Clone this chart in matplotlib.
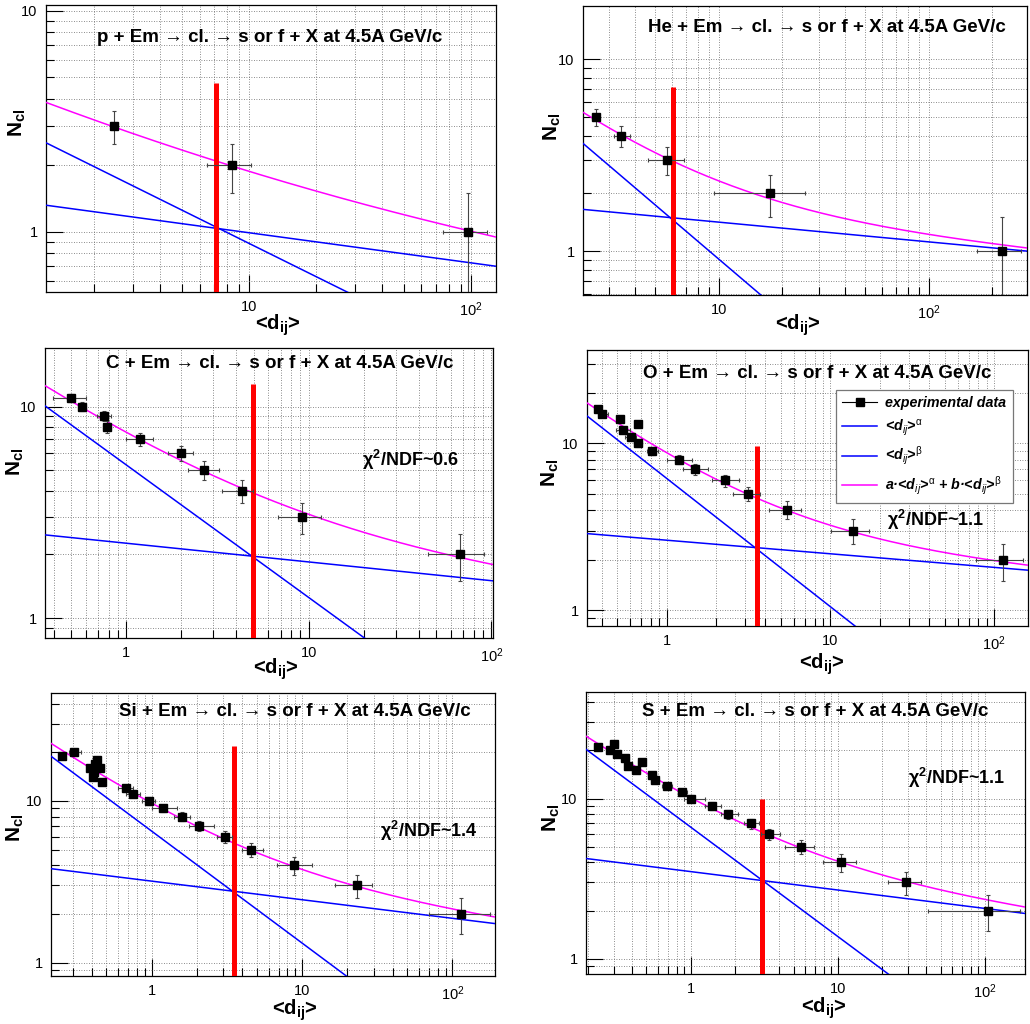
import numpy as np
import matplotlib
matplotlib.use('Agg')
import matplotlib.pyplot as plt
from matplotlib.ticker import FixedLocator, FuncFormatter, NullFormatter
from matplotlib.lines import Line2D

plt.rcParams['font.family'] = ['Liberation Sans', 'DejaVu Sans']
plt.rcParams['mathtext.fontset'] = 'custom'
plt.rcParams['mathtext.rm'] = 'Liberation Sans'
plt.rcParams['mathtext.it'] = 'Liberation Sans:italic'
plt.rcParams['mathtext.bf'] = 'Liberation Sans:bold'

W, H = 1030, 1024

# ---- data ----
p_x = [2.47, 8.4, 97]
p_y = [3, 2, 1]
p_xlo = [2.40, 6.5, 75]
p_xhi = [2.55, 10.2, 118]
p_yerr = [0.5, 0.5, 0.5]

he_x = [2.6, 3.41, 5.7, 17.5, 224]
he_y = [5, 4, 3, 2, 1]
he_xlo = [2.5, 3.16, 4.6, 9.5, 170]
he_xhi = [2.7, 3.8, 6.85, 25.8, 276]
he_yerr = [0.5, 0.5, 0.5, 0.5, 0.5]

c_x = [0.50, 0.572, 0.76, 0.787, 1.19, 2.0, 2.68, 4.28, 9.12, 67.6]
c_y = [11, 10, 9, 8, 7, 6, 5, 4, 3, 2]
c_xlo = [0.398, 0.55, 0.69, 0.75, 1.0, 1.69, 2.17, 3.35, 6.8, 45]
c_xhi = [0.604, 0.60, 0.83, 0.83, 1.41, 2.31, 3.21, 4.97, 11.6, 90.7]
c_yerr = [0.5, 0.5, 0.5, 0.5, 0.5, 0.5, 0.5, 0.5, 0.5, 0.5]

o_x = [0.381, 0.404, 0.519, 0.67, 0.543, 0.603, 0.67, 0.817, 1.19, 1.49, 2.26, 3.15, 5.4, 13.7, 114]
o_y = [16, 15, 14, 13, 12, 11, 10, 9, 8, 7, 6, 5, 4, 3, 2]
o_xlo = [0.37, 0.38, 0.50, 0.65, 0.49, 0.56, 0.63, 0.76, 1.0, 1.26, 1.89, 2.55, 4.2, 10.1, 77]
o_xhi = [0.39, 0.44, 0.54, 0.69, 0.60, 0.65, 0.71, 0.88, 1.42, 1.8, 2.78, 3.7, 6.6, 17.3, 150]
o_yerr = [0.5, 0.5, 0.5, 0.5, 0.5, 0.5, 0.5, 0.5, 0.5, 0.5, 0.5, 0.5, 0.5, 0.5, 0.5]

si_x = [0.252, 0.304, 0.39, 0.43, 0.42, 0.45, 0.415, 0.41, 0.465, 0.675, 0.747, 0.955,
        1.19, 1.59, 2.07, 3.07, 4.55, 8.83, 23.1, 113.7]
si_y = [19, 20, 16, 18, 17, 16, 15, 14, 13, 12, 11, 10, 9, 8, 7, 6, 5, 4, 3, 2]
si_xlo = [0.245, 0.28, 0.37, 0.41, 0.40, 0.43, 0.40, 0.39, 0.44, 0.60, 0.68, 0.86,
          1.0, 1.4, 1.77, 2.7, 4.0, 6.77, 16.6, 69.5]
si_xhi = [0.26, 0.34, 0.41, 0.45, 0.44, 0.48, 0.43, 0.43, 0.49, 0.754, 0.83, 1.06,
          1.47, 1.8, 2.6, 3.4, 5.5, 11.6, 29, 178]
si_yerr = [0.5, 0.5, 0.5, 0.5, 0.5, 0.5, 0.5, 0.5, 0.5, 0.5,
           0.5, 0.5, 0.5, 0.5, 0.5, 0.5, 0.5, 0.5, 0.5, 0.5]

s_x = [0.233, 0.283, 0.303, 0.314, 0.358, 0.377, 0.423, 0.465, 0.543, 0.572, 0.687,
       0.877, 1.0, 1.4, 1.8, 2.57, 3.4, 5.58, 10.5, 29.2, 105]
s_y = [21, 20, 22, 19, 18, 16, 15, 17, 14, 13, 12, 11, 10, 9, 8, 7, 6, 5, 4, 3, 2]
s_xlo = [0.22, 0.27, 0.29, 0.30, 0.34, 0.36, 0.40, 0.44, 0.51, 0.54, 0.64,
         0.82, 0.90, 1.25, 1.6, 2.3, 3.0, 4.37, 7.9, 22, 41.2]
s_xhi = [0.245, 0.30, 0.32, 0.33, 0.38, 0.40, 0.45, 0.49, 0.58, 0.61, 0.74,
         0.94, 1.24, 1.6, 2.1, 2.9, 4.04, 6.9, 13.2, 36.6, 172]
s_yerr = [0.5, 0.5, 0.5, 0.5, 0.5, 0.5, 0.5, 0.5, 0.5, 0.5, 0.5,
          0.5, 0.5, 0.5, 0.5, 0.5, 0.5, 0.5, 0.5, 0.5, 0.5]

# fit a*<d>^alpha + b*<d>^beta for each beam
fit_a = [2.79, 7.81, 5.30, 6.17, 6.50, 6.63]
fit_alpha = [-0.497, -0.934, -0.627, -0.769, -0.692, -0.683]
fit_b = [1.356, 1.795, 2.26, 2.63, 3.19, 3.50]
fit_beta = [-0.136, -0.103, -0.0885, -0.0814, -0.115, -0.115]

# red vertical line (crossing point)
cut_x = [7.1, 6.04, 4.92, 3.58, 3.54, 3.07]
cut_top = [4.7, 7.14, 12.8, 9.63, 21.9, 10.0]

beams = ['p', 'He', 'C', 'O', 'Si', 'S']
chi2 = [None, None, '0.6', '1.1', '1.4', '1.1']

# ---- layout (pixels) ----
boxes = [(46, 5, 496, 292), (583, 6, 1027, 295),
         (45, 348, 493, 638), (587, 350, 1028, 626),
         (51, 693, 495, 976), (586, 692, 1025, 974)]
xlims = [(1.22, 130), (2.26, 294), (0.359, 102), (0.326, 161), (0.214, 192), (0.194, 187)]
ylims = [(0.535, 10.6), (0.59, 19), (0.806, 18.9), (0.805, 36.3), (0.826, 46.5), (0.803, 46.3)]
title_pos = [(270, 38), (827, 27), (280, 363), (817, 373), (295, 712), (815, 712)]
ylab_pos = [(17, 123), (552, 127), (15, 462), (550, 473), (15, 828), (551, 818)]
xlab_pos = [(278, 325), (798, 325), (276, 669), (822, 664), (295, 1010), (824, 1008)]
chi_pos = [None, None, (362, 460), (887, 520), (380, 831), (908, 778)]

datasets = [(p_x, p_y, p_xlo, p_xhi, p_yerr), (he_x, he_y, he_xlo, he_xhi, he_yerr),
            (c_x, c_y, c_xlo, c_xhi, c_yerr), (o_x, o_y, o_xlo, o_xhi, o_yerr),
            (si_x, si_y, si_xlo, si_xhi, si_yerr), (s_x, s_y, s_xlo, s_xhi, s_yerr)]


def fx(px):
    return px / W


def fy(py):
    return 1 - py / H


def xfmt(v, pos):
    if abs(v - 1) < 1e-9:
        return '1'
    if abs(v - 10) < 1e-9:
        return '10'
    if abs(v - 100) < 1e-9:
        return r'$\mathregular{10^{2}}$'
    return ''


fig = plt.figure(figsize=(W / 100, H / 100), dpi=100)

for i in range(6):
    l, t, r, b = boxes[i]
    ax = fig.add_axes([fx(l), fy(b), (r - l) / W, (b - t) / H])
    ax.set_xscale('log')
    ax.set_yscale('log')
    ax.set_xlim(*xlims[i])
    ax.set_ylim(*ylims[i])

    minors = [m * 10.0 ** e for e in range(-1, 3) for m in range(2, 10)]
    ax.xaxis.set_major_locator(FixedLocator([0.1, 1, 10, 100]))
    ax.xaxis.set_minor_locator(FixedLocator(minors))
    ax.yaxis.set_major_locator(FixedLocator([0.1, 1, 10, 100]))
    ax.yaxis.set_minor_locator(FixedLocator(minors))
    ax.xaxis.set_major_formatter(FuncFormatter(xfmt))
    ax.yaxis.set_major_formatter(FuncFormatter(xfmt))
    ax.xaxis.set_minor_formatter(NullFormatter())
    ax.yaxis.set_minor_formatter(NullFormatter())
    ax.tick_params(which='major', direction='in', length=12, width=0.8, labelsize=10.5, pad=6)
    ax.tick_params(which='minor', direction='in', length=6, width=0.8)
    ax.grid(True, which='both', linestyle=(0, (1, 2)), color='#666666', linewidth=0.6)
    for sp in ax.spines.values():
        sp.set_linewidth(0.9)

    xx = np.logspace(np.log10(xlims[i][0]), np.log10(xlims[i][1]), 400)
    ya = fit_a[i] * xx ** fit_alpha[i]
    yb = fit_b[i] * xx ** fit_beta[i]
    ax.plot(xx, ya, color='#0000ff', lw=1.1, zorder=3)
    ax.plot(xx, yb, color='#0000ff', lw=1.1, zorder=3)
    ax.plot(xx, ya + yb, color='#ff00ff', lw=1.1, zorder=3)
    ax.plot([cut_x[i], cut_x[i]], [ylims[i][0] * 0.9, cut_top[i]], color='#ff0000',
            lw=3.6, solid_capstyle='butt', zorder=4)

    x, y, xlo, xhi, yerr = [np.array(v, dtype=float) for v in datasets[i]]
    ax.errorbar(x, y, xerr=[x - xlo, xhi - x], yerr=yerr, fmt='s', ms=6,
                mfc='black', mec='black', ecolor='#444444', elinewidth=0.8,
                capsize=1.5, capthick=0.8, zorder=5)

    tx, ty = title_pos[i]
    fig.text(fx(tx), fy(ty), beams[i] + ' + Em \u2192 cl. \u2192 s or f + X at 4.5A GeV/c',
             ha='center', va='center', fontsize=13.5, fontweight='bold')
    lx, ly = ylab_pos[i]
    fig.text(fx(lx), fy(ly), r'N$_\mathbf{cl}$', rotation=90, ha='center', va='center',
             fontsize=15, fontweight='bold')
    lx, ly = xlab_pos[i]
    fig.text(fx(lx), fy(ly), r'<d$_\mathbf{ij}$>', ha='center', va='center',
             fontsize=14.5, fontweight='bold')
    if chi2[i] is not None:
        cx, cy = chi_pos[i]
        fig.text(fx(cx), fy(cy), '\u03c7$^{\\mathbf{2}}$/NDF~' + chi2[i], ha='left', va='center',
                 fontsize=13, fontweight='bold')

    if i == 3:
        h_data = Line2D([], [], color='black', marker='s', ms=6, lw=0.8)
        h_a = Line2D([], [], color='#0000ff', lw=1.1)
        h_b = Line2D([], [], color='#0000ff', lw=1.1)
        h_f = Line2D([], [], color='#ff00ff', lw=1.1)
        labels = ['experimental data', '<d$_{ij}$>$^{\\mathrm{\u03b1}}$',
                  '<d$_{ij}$>$^{\\mathrm{\u03b2}}$',
                  'a\u00b7<d$_{ij}$>$^{\\mathrm{\u03b1}}$ + b\u00b7<d$_{ij}$>$^{\\mathrm{\u03b2}}$']
        leg = ax.legend([h_data, h_a, h_b, h_f], labels, loc='upper left',
                        bbox_to_anchor=(fx(836), fy(390)), bbox_transform=fig.transFigure,
                        frameon=True, fancybox=False, edgecolor='#777777', framealpha=1,
                        prop={'style': 'italic', 'weight': 'bold', 'size': 10.3},
                        handlelength=2.4, handletextpad=0.6, labelspacing=0.5,
                        borderpad=0.45, borderaxespad=0)
        leg.get_frame().set_linewidth(0.9)
        leg.set_zorder(10)

fig.savefig('out.png', dpi=100)
